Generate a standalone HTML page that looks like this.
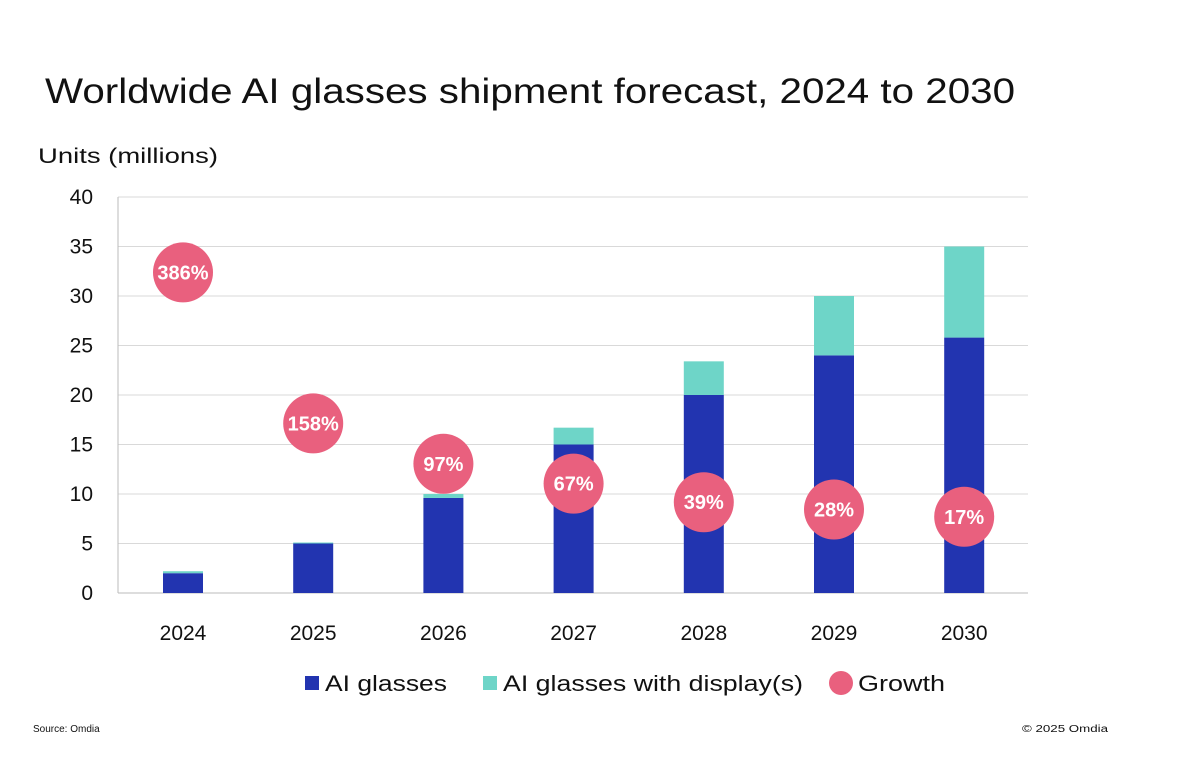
<!DOCTYPE html>
<html><head><meta charset="utf-8"><style>
body{margin:0;background:#fff;font-family:"Liberation Sans",sans-serif;}
svg text{font-family:"Liberation Sans",sans-serif;}
</style></head><body>
<svg width="1200" height="779" viewBox="0 0 1200 779">
<text x="45" y="103" font-size="35" fill="#111" textLength="970" lengthAdjust="spacingAndGlyphs">Worldwide AI glasses shipment forecast, 2024 to 2030</text>
<text x="38" y="163" font-size="21" fill="#111" textLength="180" lengthAdjust="spacingAndGlyphs">Units (millions)</text>
<g id="grid"></g><g id="bars"></g><g id="bubbles"></g>
<g>
<rect x="305" y="676" width="14" height="14" fill="#2234b0"/>
<text x="325" y="691" font-size="22" fill="#111" textLength="122" lengthAdjust="spacingAndGlyphs">AI glasses</text>
<rect x="483" y="676" width="14" height="14" fill="#6ed5c8"/>
<text x="503" y="691" font-size="22" fill="#111" textLength="300" lengthAdjust="spacingAndGlyphs">AI glasses with display(s)</text>
<circle cx="841" cy="683" r="12" fill="#e9607e"/>
<text x="858" y="691" font-size="22" fill="#111" textLength="87" lengthAdjust="spacingAndGlyphs">Growth</text>
</g>
<text x="33" y="732" font-size="10" fill="#111">Source: Omdia</text>
<text x="1022" y="732" font-size="10" fill="#111" textLength="86" lengthAdjust="spacingAndGlyphs">© 2025 Omdia</text>
</svg>
<script>
const categories=["2024","2025","2026","2027","2028","2029","2030"];
const aiGlasses=[2,5,9.6,15,20,24,25.8];
const withDisplay=[0.2,0.1,0.4,1.7,3.4,6,9.2];
const growth=[386,158,97,67,39,28,17];
const yTicks=[0,5,10,15,20,25,30,35,40];
const NS="http://www.w3.org/2000/svg";
const x0=118,x1=1028,yTop=197,yBot=593,band=130.2;
const y=v=>yBot-(yBot-yTop)*v/40;
const xc=i=>183+i*band;
const gy=g=>y(6.56+0.0669*g);
function mk(tag,attrs,parent){const e=document.createElementNS(NS,tag);for(const k in attrs)e.setAttribute(k,attrs[k]);parent.appendChild(e);return e;}
const grid=document.getElementById('grid'),bars=document.getElementById('bars'),bub=document.getElementById('bubbles');
yTicks.forEach(t=>{
 if(t>0){const l=mk('line',{x1:x0,x2:x1,y1:y(t),y2:y(t),stroke:'#d9d9d9','stroke-width':1},grid);
 
 }
 const tx=mk('text',{x:93,y:y(t)+7,'font-size':21,'text-anchor':'end',fill:'#111'},grid);tx.textContent=t;
 
 
});
const ax=mk('line',{x1:x0,x2:x0,y1:yTop,y2:yBot,stroke:'#bbb'},grid);


const bx=mk('line',{x1:x0,x2:x1,y1:yBot,y2:yBot,stroke:'#bbb'},grid);


categories.forEach((c,i)=>{
 const cx=xc(i);
 const r1=mk('rect',{x:cx-20,y:y(aiGlasses[i]),width:40,height:yBot-y(aiGlasses[i]),fill:'#2234b0'},bars);
 
 
 const top=aiGlasses[i]+withDisplay[i];
 const r2=mk('rect',{x:cx-20,y:y(top),width:40,height:y(aiGlasses[i])-y(top),fill:'#6ed5c8'},bars);
 
 
 const t=mk('text',{x:cx,y:640,'font-size':21,'text-anchor':'middle',fill:'#111'},bars);t.textContent=c;
 
 
 const cy=gy(growth[i]);
 const ci=mk('circle',{cx:cx,cy:cy,r:30,fill:'#e9607e'},bub);
 
 
 const gt=mk('text',{x:cx,y:cy+7,'font-size':20,'font-weight':'bold','text-anchor':'middle',fill:'#fff'},bub);gt.textContent=growth[i]+'%';
 
 
});
</script>
</body></html>
